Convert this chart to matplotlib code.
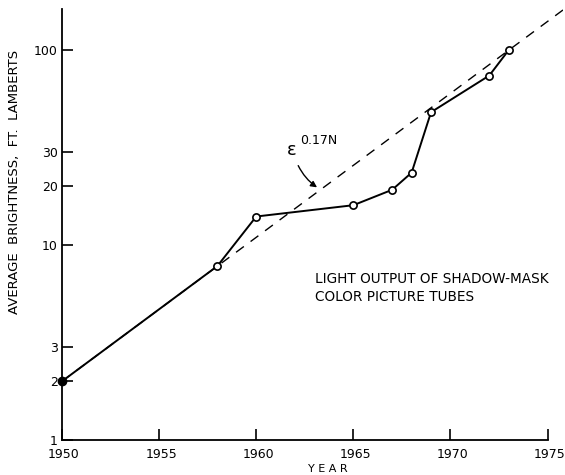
import numpy as np
import matplotlib
matplotlib.use("Agg")
import matplotlib.pyplot as plt
import matplotlib.transforms as mtransforms
from matplotlib.ticker import FixedLocator, NullLocator

# readings
years = [1950, 1958, 1960, 1965, 1967, 1968, 1969, 1972, 1973]
brightness = [2.0, 7.8, 14.0, 16.0, 19.2, 23.5, 48.0, 74.0, 100.0]

fit_start = 2.0      # e^0.17N trend anchored at 1950
fit_rate = 0.17

ytick_vals = [1, 2, 3, 10, 20, 30, 100]
xtick_vals = [1950, 1955, 1960, 1965, 1970, 1975]

plt.rcParams['font.family'] = ['DejaVu Sans']

fig = plt.figure(figsize=(5.65, 4.75), dpi=100)
ax = fig.add_axes([0.1097, 0.0737, 0.887, 0.907])

# dashed trend line
fit_x = np.linspace(1950, 1976, 200)
fit_y = fit_start * np.exp(fit_rate * (fit_x - 1950))
ax.plot(fit_x, fit_y, color='black', lw=1.0, ls=(0, (7, 6)))

# measured points
ax.plot(years, brightness, color='black', lw=1.4, zorder=3)
ax.plot(years[1:], brightness[1:], 'o', ms=5.2, mfc='white', mec='black',
        mew=1.2, zorder=4)
ax.plot(years[:1], brightness[:1], 'o', ms=6, color='black', zorder=4,
        clip_on=False)

ax.set_yscale('log')
ax.set_xlim(1950, 1975.8)
ax.set_ylim(1, 162)

ax.spines['top'].set_visible(False)
ax.spines['right'].set_visible(False)
ax.spines['bottom'].set_bounds(1950, 1975)
ax.spines['left'].set_linewidth(1.3)
ax.spines['bottom'].set_linewidth(1.3)

ax.yaxis.set_major_locator(FixedLocator(ytick_vals))
ax.yaxis.set_minor_locator(NullLocator())
ax.set_yticklabels([str(v) for v in ytick_vals])
ax.set_xticks(xtick_vals)
ax.set_xticklabels([str(v) for v in xtick_vals])
ax.tick_params(axis='both', direction='in', length=8, width=1.2,
               labelsize=9)
ax.tick_params(axis='x', pad=6)
ax.tick_params(axis='y', pad=3)

# year labels sit a little right of their ticks
shift = mtransforms.ScaledTranslation(2 / 100, 0, fig.dpi_scale_trans)
for lab in ax.get_xticklabels():
    lab.set_transform(lab.get_transform() + shift)

ax.set_xlabel('Y E A R', fontsize=8)
ax.xaxis.set_label_coords(0.531, -0.056)
ax.set_ylabel('AVERAGE  BRIGHTNESS,  FT.  LAMBERTS', fontsize=9.5)
ax.yaxis.set_label_coords(-0.082, 0.6)

# trend label with arrow
ax.text(1961.8, 30.7, 'ε', fontsize=13, ha='center', va='center')
ax.text(1962.25, 34.5, '0.17N', fontsize=9, ha='left', va='center')
ax.annotate('', xy=(1963.25, 19.4), xytext=(1962.1, 26.3),
            arrowprops=dict(arrowstyle='-|>', color='black', lw=1.0,
                            mutation_scale=9,
                            connectionstyle='arc3,rad=0.15'))

ax.text(1963.0, 6.0, 'LIGHT OUTPUT OF SHADOW-MASK\nCOLOR PICTURE TUBES',
        fontsize=9.8, ha='left', va='center', linespacing=1.4)

fig.savefig('out.png', dpi=100)
